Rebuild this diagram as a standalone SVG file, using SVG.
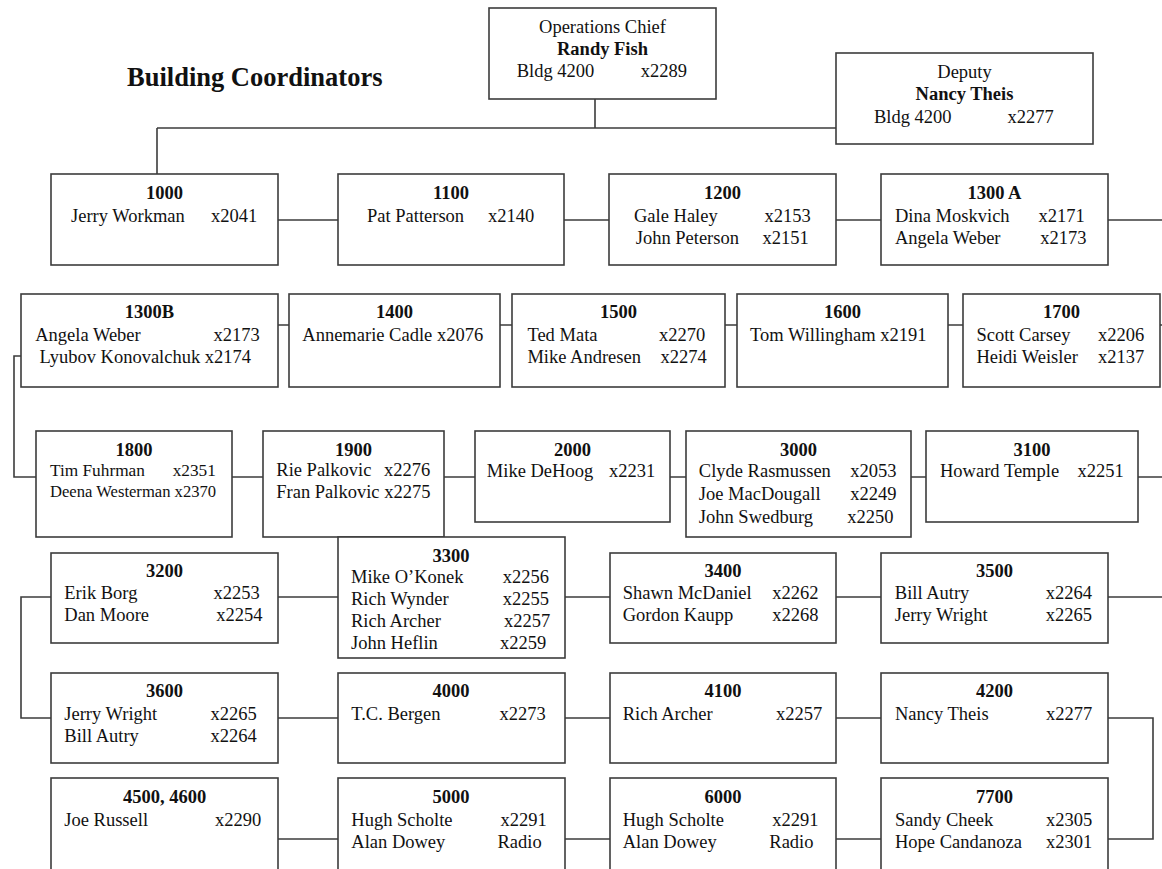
<svg xmlns="http://www.w3.org/2000/svg" width="1162" height="869" viewBox="0 0 1162 869">
<style>
.box{fill:#fff;stroke:#3c3c3c;stroke-width:1.6}
.conn{fill:none;stroke:#3c3c3c;stroke-width:1.6}
text{font-family:"Liberation Serif","Times New Roman",serif;font-size:18.5px;fill:#111}
.b{font-weight:bold}
.c{text-anchor:middle}
.s{font-size:17.3px}
.xs{font-size:16.6px}
.title{font-size:26.5px;font-weight:bold}
</style>
<rect x="0" y="0" width="1162" height="869" fill="#fff"/>
<text class="title" x="127" y="86">Building Coordinators</text>

<g id="connectors">
<path class="conn" d="M595,99 V128 M157,128 H836 M157,128 V174"/>
<path class="conn" d="M278,220 H338 M564,220 H609 M836,220 H881 M1108,220 H1162"/>
<path class="conn" d="M278,325 H289 M500,325 H512 M725,325 H737 M948,325 H963 M1160,325 H1162"/>
<path class="conn" d="M21,356 H14 V477 H36"/>
<path class="conn" d="M232,477 H263 M444,477 H475 M670,477 H686 M911,477 H926 M1138,477 H1162"/>
<path class="conn" d="M278,597 H338 M565,597 H610 M836,597 H881 M1108,597 H1162"/>
<path class="conn" d="M51,597 H21 V718 H51"/>
<path class="conn" d="M278,718 H338 M565,718 H610 M836,718 H881"/>
<path class="conn" d="M1108,718 H1153 V839 H1108"/>
<path class="conn" d="M278,839 H338 M565,839 H610 M836,839 H881"/>
</g>

<g id="ops">
<rect class="box" x="489" y="8" width="227" height="91"/>
<text class="c" x="602.5" y="33">Operations Chief</text>
<text class="c b" x="602.5" y="55">Randy Fish</text>
<text x="516.7" y="77">Bldg 4200</text><text x="640.7" y="77">x2289</text>
</g>
<g id="deputy">
<rect class="box" x="836" y="53" width="257" height="91"/>
<text class="c" x="964.5" y="78">Deputy</text>
<text class="c b" x="964.5" y="100">Nancy Theis</text>
<text x="874" y="123">Bldg 4200</text><text x="1007.6" y="123">x2277</text>
</g>

<g id="n1000">
<rect class="box" x="51" y="174" width="227" height="91"/>
<text class="c b" x="164.5" y="199">1000</text>
<text x="71" y="222">Jerry Workman</text><text x="211" y="222">x2041</text>
</g>
<g id="n1100">
<rect class="box" x="338" y="174" width="226" height="91"/>
<text class="c b" x="451" y="199">1100</text>
<text x="367" y="222">Pat Patterson</text><text x="488" y="222">x2140</text>
</g>
<g id="n1200">
<rect class="box" x="609" y="174" width="227" height="91"/>
<text class="c b" x="722.5" y="199">1200</text>
<text x="634" y="222">Gale Haley</text><text x="764.5" y="222">x2153</text>
<text x="635.7" y="244">John Peterson</text><text x="762.6" y="244">x2151</text>
</g>
<g id="n1300a">
<rect class="box" x="881" y="174" width="227" height="91"/>
<text class="c b" x="994.5" y="199">1300 A</text>
<text x="895" y="222">Dina Moskvich</text><text x="1038.4" y="222">x2171</text>
<text x="895" y="244">Angela Weber</text><text x="1040.3" y="244">x2173</text>
</g>

<g id="n1300b">
<rect class="box" x="21" y="294" width="257" height="93"/>
<text class="c b" x="149.5" y="318">1300B</text>
<text x="35.2" y="341">Angela Weber</text><text x="213.5" y="341">x2173</text>
<text x="39.4" y="363">Lyubov Konovalchuk x2174</text>
</g>
<g id="n1400">
<rect class="box" x="289" y="294" width="211" height="93"/>
<text class="c b" x="394.5" y="318">1400</text>
<text x="302.3" y="341">Annemarie Cadle x2076</text>
</g>
<g id="n1500">
<rect class="box" x="512" y="294" width="213" height="93"/>
<text class="c b" x="618.5" y="318">1500</text>
<text x="527.4" y="341">Ted Mata</text><text x="659" y="341">x2270</text>
<text x="527.4" y="363">Mike Andresen</text><text x="660.5" y="363">x2274</text>
</g>
<g id="n1600">
<rect class="box" x="737" y="294" width="211" height="93"/>
<text class="c b" x="842.5" y="318">1600</text>
<text x="750" y="341">Tom Willingham x2191</text>
</g>
<g id="n1700">
<rect class="box" x="963" y="294" width="197" height="93"/>
<text class="c b" x="1061.5" y="318">1700</text>
<text x="976.4" y="341">Scott Carsey</text><text x="1098" y="341">x2206</text>
<text x="976.4" y="363">Heidi Weisler</text><text x="1098" y="363">x2137</text>
</g>

<g id="n1800">
<rect class="box" x="36" y="431" width="196" height="106"/>
<text class="c b" x="134" y="456">1800</text>
<text class="s" x="50" y="476">Tim Fuhrman</text><text class="s" x="172.7" y="476">x2351</text>
<text class="xs" x="50" y="497">Deena Westerman x2370</text>
</g>
<g id="n1900">
<rect class="box" x="263" y="431" width="181" height="106"/>
<text class="c b" x="353.5" y="456">1900</text>
<text x="276.3" y="476">Rie Palkovic</text><text x="384" y="476">x2276</text>
<text x="276.3" y="498">Fran Palkovic x2275</text>
</g>
<g id="n2000">
<rect class="box" x="475" y="431" width="195" height="91"/>
<text class="c b" x="572.5" y="456">2000</text>
<text x="486.8" y="477">Mike DeHoog</text><text x="609" y="477">x2231</text>
</g>
<g id="n3000">
<rect class="box" x="686" y="431" width="225" height="106"/>
<text class="c b" x="798.5" y="456">3000</text>
<text x="698.8" y="477">Clyde Rasmussen</text><text x="850.2" y="477">x2053</text>
<text x="698.8" y="500">Joe MacDougall</text><text x="850.2" y="500">x2249</text>
<text x="698.8" y="523">John Swedburg</text><text x="847.3" y="523">x2250</text>
</g>
<g id="n3100">
<rect class="box" x="926" y="431" width="212" height="91"/>
<text class="c b" x="1032" y="456">3100</text>
<text x="940" y="477">Howard Temple</text><text x="1077.4" y="477">x2251</text>
</g>

<g id="n3200">
<rect class="box" x="51" y="553" width="227" height="90"/>
<text class="c b" x="164.5" y="577">3200</text>
<text x="64.3" y="598.5">Erik Borg</text><text x="213.5" y="598.5">x2253</text>
<text x="64.3" y="620.5">Dan Moore</text><text x="216.2" y="620.5">x2254</text>
</g>
<g id="n3300">
<rect class="box" x="338" y="537" width="227" height="121"/>
<text class="c b" x="451" y="561.5">3300</text>
<text x="351" y="583.3">Mike O’Konek</text><text x="502.7" y="583.3">x2256</text>
<text x="351" y="605">Rich Wynder</text><text x="502.7" y="605">x2255</text>
<text x="351" y="627.3">Rich Archer</text><text x="504" y="627.3">x2257</text>
<text x="351" y="649.3">John Heflin</text><text x="500" y="649.3">x2259</text>
</g>
<g id="n3400">
<rect class="box" x="610" y="553" width="226" height="90"/>
<text class="c b" x="723" y="577">3400</text>
<text x="622.7" y="598.5">Shawn McDaniel</text><text x="772.3" y="598.5">x2262</text>
<text x="622.7" y="620.5">Gordon Kaupp</text><text x="772.3" y="620.5">x2268</text>
</g>
<g id="n3500">
<rect class="box" x="881" y="553" width="227" height="90"/>
<text class="c b" x="994.5" y="577">3500</text>
<text x="894.8" y="598.5">Bill Autry</text><text x="1045.8" y="598.5">x2264</text>
<text x="894.8" y="620.5">Jerry Wright</text><text x="1045.8" y="620.5">x2265</text>
</g>

<g id="n3600">
<rect class="box" x="51" y="673" width="227" height="90"/>
<text class="c b" x="164.5" y="697">3600</text>
<text x="64.3" y="719.5">Jerry Wright</text><text x="210.5" y="719.5">x2265</text>
<text x="64.3" y="741.5">Bill Autry</text><text x="210.5" y="741.5">x2264</text>
</g>
<g id="n4000">
<rect class="box" x="338" y="673" width="227" height="90"/>
<text class="c b" x="451" y="697">4000</text>
<text x="351.3" y="719.5">T.C. Bergen</text><text x="499.4" y="719.5">x2273</text>
</g>
<g id="n4100">
<rect class="box" x="610" y="673" width="226" height="90"/>
<text class="c b" x="723" y="697">4100</text>
<text x="622.7" y="719.5">Rich Archer</text><text x="776" y="719.5">x2257</text>
</g>
<g id="n4200">
<rect class="box" x="881" y="673" width="227" height="90"/>
<text class="c b" x="994.5" y="697">4200</text>
<text x="895" y="719.5">Nancy Theis</text><text x="1046" y="719.5">x2277</text>
</g>

<g id="n4500">
<rect class="box" x="51" y="778" width="227" height="100"/>
<text class="c b" x="164.5" y="803">4500, 4600</text>
<text x="64.3" y="826">Joe Russell</text><text x="215" y="826">x2290</text>
</g>
<g id="n5000">
<rect class="box" x="338" y="778" width="227" height="100"/>
<text class="c b" x="451" y="803">5000</text>
<text x="351.3" y="826">Hugh Scholte</text><text x="500.6" y="826">x2291</text>
<text x="351.3" y="848">Alan Dowey</text><text x="497.5" y="848">Radio</text>
</g>
<g id="n6000">
<rect class="box" x="610" y="778" width="226" height="100"/>
<text class="c b" x="723" y="803">6000</text>
<text x="622.7" y="826">Hugh Scholte</text><text x="772.3" y="826">x2291</text>
<text x="622.7" y="848">Alan Dowey</text><text x="769.3" y="848">Radio</text>
</g>
<g id="n7700">
<rect class="box" x="881" y="778" width="227" height="100"/>
<text class="c b" x="994.5" y="803">7700</text>
<text x="895" y="826">Sandy Cheek</text><text x="1046" y="826">x2305</text>
<text x="895" y="848">Hope Candanoza</text><text x="1046" y="848">x2301</text>
</g>
</svg>
